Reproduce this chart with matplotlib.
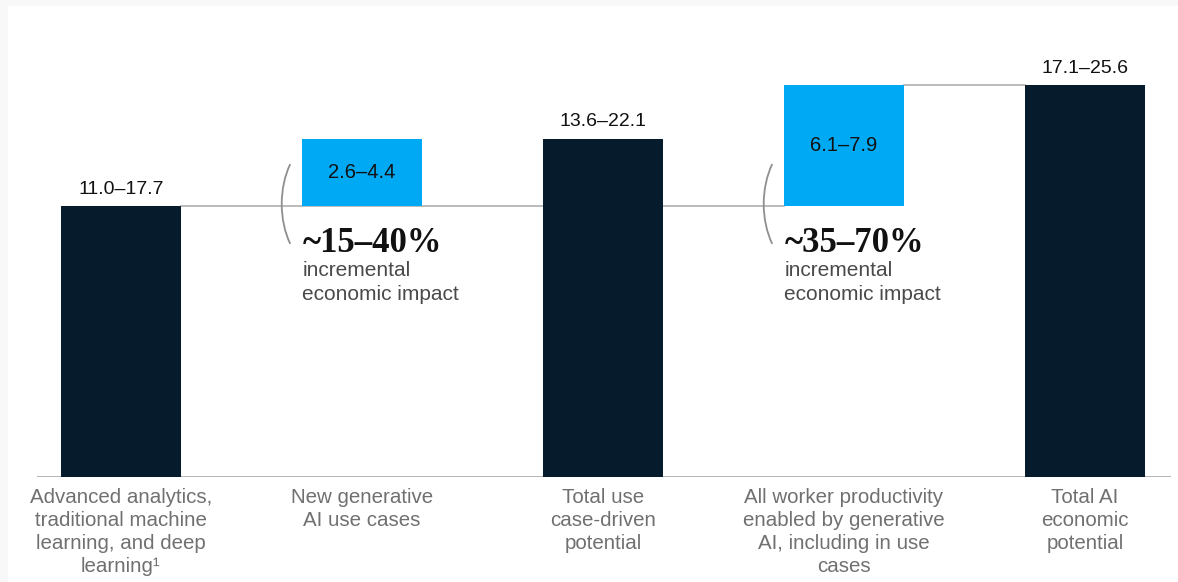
import matplotlib.pyplot as plt
import matplotlib.transforms as mtransforms
from matplotlib.patches import Arc, Rectangle

# waterfall data (upper bound of each range sets the bar height)
categories = [
    "Advanced analytics,\ntraditional machine\nlearning, and deep\nlearning\u00b9",
    "New generative\nAI use cases",
    "Total use\ncase-driven\npotential",
    "All worker productivity\nenabled by generative\nAI, including in use\ncases",
    "Total AI\neconomic\npotential",
]
bar_bottoms = [0, 17.7, 0, 17.7, 0]
bar_tops = [17.7, 22.1, 22.1, 25.6, 25.6]
range_labels = ["11.0\u201317.7", "2.6\u20134.4", "13.6\u201322.1", "6.1\u20137.9", "17.1\u201325.6"]
is_increment = [False, True, False, True, False]
impact_labels = {1: "~15\u201340%", 3: "~35\u201370%"}

navy = "#061c2c"
blue = "#00a9f4"
gray_line = "#a8a8a8"
gray_text = "#707070"

plt.rcParams['font.family'] = ['Liberation Sans', 'DejaVu Sans']

fig = plt.figure(figsize=(11.78, 5.82), dpi=100, facecolor="#f8f8f8")
# white panel, kept behind the axes
fig.patches.append(Rectangle((8 / 1178, 0), 1, (582 - 6) / 582, transform=fig.transFigure,
                             facecolor="white", edgecolor="none", zorder=-10))

ymax = 28
ax = fig.add_axes([37 / 1178, 105 / 582, (1171 - 37) / 1178, (392 * ymax / 25.6) / 582])
ax.set_facecolor("none")
ax.set_xlim(-0.3485, 4.357)
ax.set_ylim(0, ymax)
ax.axis("off")

w = 0.5
xs = list(range(len(categories)))
heights = [t - b for t, b in zip(bar_tops, bar_bottoms)]
colors = [blue if inc else navy for inc in is_increment]
ax.bar(xs, heights, bottom=bar_bottoms, width=w, color=colors, zorder=3)

# baseline and connectors
ax.axhline(0, color=gray_line, lw=1.2, zorder=2)
ax.plot([xs[0] + w / 2, xs[3] - w / 2], [bar_tops[0]] * 2, color=gray_line, lw=1.1, zorder=1)
ax.plot([xs[3] + w / 2, xs[4] - w / 2], [bar_tops[3]] * 2, color=gray_line, lw=1.1, zorder=1)

for i in xs:
    if is_increment[i]:
        ax.text(i, (bar_bottoms[i] + bar_tops[i]) / 2, range_labels[i], ha="center", va="center",
                fontsize=14.5, color="#111111", zorder=4)
    else:
        ax.text(i, bar_tops[i] + 0.55, range_labels[i], ha="center", va="bottom",
                fontsize=14, color="#111111")
    ax.text(i, -0.7, categories[i], ha="center", va="top", fontsize=14.8,
            color=gray_text, linespacing=1.28, clip_on=False)

# bracket + impact annotations
for i, lab in impact_labels.items():
    left = i - w / 2
    # arc drawn in inches so it keeps its shape
    tr = fig.dpi_scale_trans + mtransforms.ScaledTranslation(left, bar_bottoms[i], ax.transData)
    ax.add_patch(Arc((0.22, 0.02), 0.84, 1.32, theta1=130, theta2=230, color="#8f8f8f",
                     lw=1.3, transform=tr, zorder=2))
    ax.text(left + 0.003, bar_bottoms[i] - 2.45, lab, ha="left", va="center", fontsize=25,
            fontweight="bold", family=["Liberation Serif", "DejaVu Serif"], color="#111111")
    ax.text(left + 0.003, bar_bottoms[i] - 3.6, "incremental\neconomic impact", ha="left", va="top",
            fontsize=15, color="#4a4a4a", linespacing=1.3)

fig.savefig("out.png", dpi=100, facecolor=fig.get_facecolor())
